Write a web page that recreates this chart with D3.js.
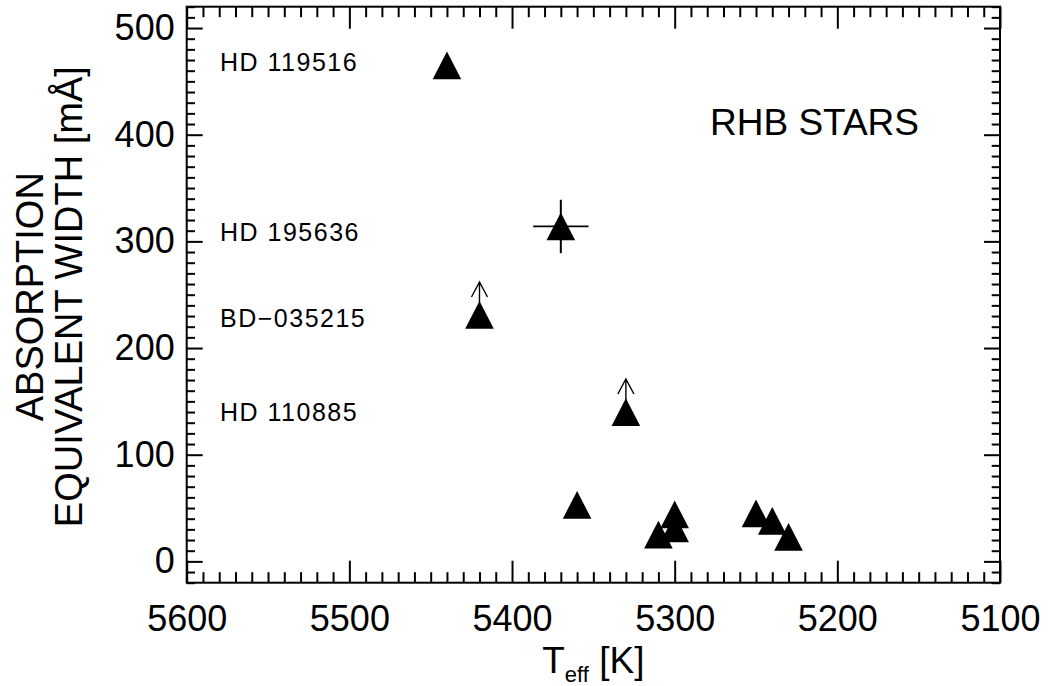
<!DOCTYPE html>
<html>
<head>
<meta charset="utf-8">
<script src="https://cdn.jsdelivr.net/npm/d3@7"></script>
<style>
  body { margin: 0; background: #fff; }
  svg text { fill: #000; }
</style>
</head>
<body>
<div id="chart"></div>
<script>
// RHB stars: absorption equivalent width vs effective temperature
var teff   = [5440, 5370, 5420, 5330, 5360, 5310, 5300, 5300, 5250, 5240, 5230];
var ew     = [465,  314,  231,  140,  53,   25,   44,   31,   45,   38,   23];
var limit  = [false, false, true, true, false, false, false, false, false, false, false];
var errT   = [0, 17, 0, 0, 0, 0, 0, 0, 0, 0, 0];
var errEw  = [0, 25, 0, 0, 0, 0, 0, 0, 0, 0, 0];

var starNames  = ['HD 119516', 'HD 195636', 'BD\u2212035215', 'HD 110885'];
var starLabelY = [460, 300, 220, 132];

var xTicks = [5600, 5500, 5400, 5300, 5200, 5100];
var yTicks = [0, 100, 200, 300, 400, 500];

var fontFamily = '"Liberation Sans", Arial, Helvetica, sans-serif';
var width = 1048, height = 686;
var margin = {left: 186.7, right: 48, top: 6.7, bottom: 103.3};
var innerWidth = width - margin.left - margin.right;
var innerHeight = height - margin.top - margin.bottom;

var svg = d3.select('#chart').append('svg')
            .attr('width', width)
            .attr('height', height)
            .attr('font-family', fontFamily);
var g = svg.append('g')
           .attr('transform', 'translate(' + margin.left + ',' + margin.top + ')');

var xScale = d3.scaleLinear().domain([5600, 5100]).range([0, innerWidth]);
var yScale = d3.scaleLinear().domain([-20, 520]).range([innerHeight, 0]);

var xMinor = d3.range(5600, 5099, -10).filter(function(d){ return d % 100 !== 0; });
var yMinor = d3.range(-20, 521, 10).filter(function(d){ return d % 100 !== 0; });

//IDL-style axes: ticks point inward, labels only bottom/left
function styleAxis(sel) {
  sel.attr('font-size', 36).attr('font-family', fontFamily);
  sel.select('.domain').remove();
  sel.selectAll('line').attr('stroke', '#000').attr('stroke-width', 2);
  sel.selectAll('text').filter(function(){ return this.textContent === ''; }).remove();
}

// bottom
g.append('g').attr('transform', 'translate(0,' + innerHeight + ')')
 .call(d3.axisBottom(xScale).tickValues(xTicks).tickSize(-22).tickPadding(23).tickFormat(d3.format('d')))
 .call(styleAxis);
g.append('g').attr('transform', 'translate(0,' + innerHeight + ')')
 .call(d3.axisBottom(xScale).tickValues(xMinor).tickSize(-10.5).tickFormat(''))
 .call(styleAxis);
// top
g.append('g')
 .call(d3.axisTop(xScale).tickValues(xTicks).tickSize(-22).tickFormat(''))
 .call(styleAxis);
g.append('g')
 .call(d3.axisTop(xScale).tickValues(xMinor).tickSize(-10.5).tickFormat(''))
 .call(styleAxis);
// left
g.append('g')
 .call(d3.axisLeft(yScale).tickValues(yTicks).tickSize(-16).tickPadding(12).tickFormat(d3.format('d')))
 .call(styleAxis);
g.append('g')
 .call(d3.axisLeft(yScale).tickValues(yMinor).tickSize(-8.3).tickFormat(''))
 .call(styleAxis);
// right
g.append('g').attr('transform', 'translate(' + innerWidth + ',0)')
 .call(d3.axisRight(yScale).tickValues(yTicks).tickSize(-16).tickFormat(''))
 .call(styleAxis);
g.append('g').attr('transform', 'translate(' + innerWidth + ',0)')
 .call(d3.axisRight(yScale).tickValues(yMinor).tickSize(-8.3).tickFormat(''))
 .call(styleAxis);

g.append('rect')
 .attr('width', innerWidth).attr('height', innerHeight)
 .attr('fill', 'none').attr('stroke', '#000').attr('stroke-width', 2);

// points
var stars = teff.map(function(t, i){
  return {t: t, ew: ew[i], limit: limit[i], et: errT[i], ee: errEw[i]};
});

var tri = 'M0,-13.9L14.3,13.9L-14.3,13.9Z';

// error bars
var errG = g.append('g');
stars.filter(function(d){ return d.et || d.ee; }).forEach(function(d){
  errG.append('line')
      .attr('x1', xScale(d.t - d.et)).attr('x2', xScale(d.t + d.et))
      .attr('y1', yScale(d.ew)).attr('y2', yScale(d.ew))
      .attr('stroke', '#000').attr('stroke-width', 1.8);
  errG.append('line')
      .attr('x1', xScale(d.t)).attr('x2', xScale(d.t))
      .attr('y1', yScale(d.ew - d.ee)).attr('y2', yScale(d.ew + d.ee))
      .attr('stroke', '#000').attr('stroke-width', 2);
});

// lower-limit arrows
var arrG = g.append('g').attr('stroke', '#000').attr('stroke-width', 1.4).attr('fill', 'none');
stars.filter(function(d){ return d.limit; }).forEach(function(d){
  var x = xScale(d.t), y = yScale(d.ew), tip = y - 33;
  arrG.append('path')
      .attr('d', 'M' + x + ',' + y + 'L' + x + ',' + tip +
                 'M' + (x - 8) + ',' + (tip + 15) + 'L' + x + ',' + tip + 'L' + (x + 8) + ',' + (tip + 15));
});

g.append('g').selectAll('path')
 .data(stars)
 .enter().append('path')
 .attr('d', tri)
 .attr('transform', function(d){ return 'translate(' + xScale(d.t) + ',' + yScale(d.ew) + ')'; })
 .attr('fill', '#000');

// star names
starNames.forEach(function(name, i){
  g.append('text')
   .attr('x', 33.3)
   .attr('y', yScale(starLabelY[i]))
   .attr('font-size', 25)
   .attr('letter-spacing', 1.5)
   .text(name);
});

g.append('text')
 .attr('x', 710 - margin.left)
 .attr('y', 135 - margin.top)
 .attr('font-size', 37)
 .text('RHB STARS');

// axis titles
var xTitle = svg.append('text')
  .attr('x', margin.left + innerWidth / 2)
  .attr('y', 673)
  .attr('text-anchor', 'middle')
  .attr('font-size', 37);
xTitle.append('tspan').text('T');
xTitle.append('tspan').attr('font-size', 22).attr('dy', 9).text('eff');
xTitle.append('tspan').attr('dy', -9).text(' [K]');

var yTitle = svg.append('g')
  .attr('transform', 'translate(0,' + (margin.top + innerHeight / 2 + 2) + ') rotate(-90)');
yTitle.append('text')
  .attr('x', 0).attr('y', 42.7)
  .attr('text-anchor', 'middle')
  .attr('font-size', 38)
  .text('ABSORPTION');
yTitle.append('text')
  .attr('x', 0).attr('y', 81.5)
  .attr('text-anchor', 'middle')
  .attr('font-size', 38)
  .text('EQUIVALENT WIDTH [mÅ]');
</script>
</body>
</html>
